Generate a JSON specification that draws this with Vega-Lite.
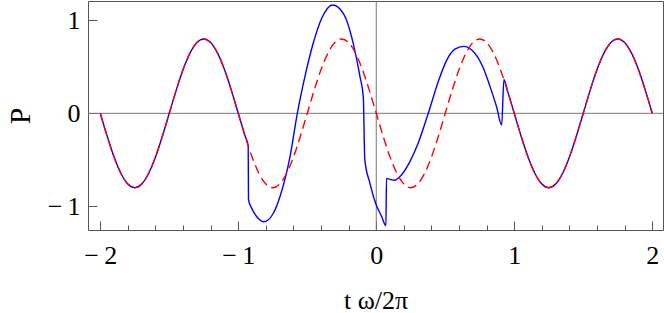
{
  "$schema": "https://vega.github.io/schema/vega-lite/v6.json",
  "width": 575,
  "height": 229,
  "autosize": {"type": "none"},
  "padding": {"left": 88, "top": 1, "right": 1, "bottom": 83},
  "background": "white",
  "config": {"view": {"stroke": "#555555", "strokeWidth": 1}, "font": "Liberation Serif"},
  "datasets": {
    "red": [
      {"t": -2, "P": 0}, {"t": -1.95, "P": -0.247}, {"t": -1.9, "P": -0.47}, {"t": -1.85, "P": -0.647}, {"t": -1.8, "P": -0.761},
      {"t": -1.75, "P": -0.8}, {"t": -1.7, "P": -0.761}, {"t": -1.65, "P": -0.647}, {"t": -1.6, "P": -0.47}, {"t": -1.55, "P": -0.247},
      {"t": -1.5, "P": 0}, {"t": -1.45, "P": 0.247}, {"t": -1.4, "P": 0.47}, {"t": -1.35, "P": 0.647}, {"t": -1.3, "P": 0.761},
      {"t": -1.25, "P": 0.8}, {"t": -1.2, "P": 0.761}, {"t": -1.15, "P": 0.647}, {"t": -1.1, "P": 0.47}, {"t": -1.05, "P": 0.247},
      {"t": -1, "P": 0}, {"t": -0.95, "P": -0.247}, {"t": -0.9, "P": -0.47}, {"t": -0.85, "P": -0.647}, {"t": -0.8, "P": -0.761},
      {"t": -0.75, "P": -0.8}, {"t": -0.7, "P": -0.761}, {"t": -0.65, "P": -0.647}, {"t": -0.6, "P": -0.47}, {"t": -0.55, "P": -0.247},
      {"t": -0.5, "P": 0}, {"t": -0.45, "P": 0.247}, {"t": -0.4, "P": 0.47}, {"t": -0.35, "P": 0.647}, {"t": -0.3, "P": 0.761},
      {"t": -0.25, "P": 0.8}, {"t": -0.2, "P": 0.761}, {"t": -0.15, "P": 0.647}, {"t": -0.1, "P": 0.47}, {"t": -0.05, "P": 0.247},
      {"t": 0, "P": 0}, {"t": 0.05, "P": -0.247}, {"t": 0.1, "P": -0.47}, {"t": 0.15, "P": -0.647}, {"t": 0.2, "P": -0.761},
      {"t": 0.25, "P": -0.8}, {"t": 0.3, "P": -0.761}, {"t": 0.35, "P": -0.647}, {"t": 0.4, "P": -0.47}, {"t": 0.45, "P": -0.247},
      {"t": 0.5, "P": 0}, {"t": 0.55, "P": 0.247}, {"t": 0.6, "P": 0.47}, {"t": 0.65, "P": 0.647}, {"t": 0.7, "P": 0.761},
      {"t": 0.75, "P": 0.8}, {"t": 0.8, "P": 0.761}, {"t": 0.85, "P": 0.647}, {"t": 0.9, "P": 0.47}, {"t": 0.95, "P": 0.247},
      {"t": 1, "P": 0}, {"t": 1.05, "P": -0.247}, {"t": 1.1, "P": -0.47}, {"t": 1.15, "P": -0.647}, {"t": 1.2, "P": -0.761},
      {"t": 1.25, "P": -0.8}, {"t": 1.3, "P": -0.761}, {"t": 1.35, "P": -0.647}, {"t": 1.4, "P": -0.47}, {"t": 1.45, "P": -0.247},
      {"t": 1.5, "P": 0}, {"t": 1.55, "P": 0.247}, {"t": 1.6, "P": 0.47}, {"t": 1.65, "P": 0.647}, {"t": 1.7, "P": 0.761},
      {"t": 1.75, "P": 0.8}, {"t": 1.8, "P": 0.761}, {"t": 1.85, "P": 0.647}, {"t": 1.9, "P": 0.47}, {"t": 1.95, "P": 0.247},
      {"t": 2, "P": 0}
    ],
    "blue": [
      {"t": -2, "P": 0}, {"t": -1.95, "P": -0.247}, {"t": -1.9, "P": -0.47}, {"t": -1.85, "P": -0.647}, {"t": -1.8, "P": -0.761},
      {"t": -1.75, "P": -0.8}, {"t": -1.7, "P": -0.761}, {"t": -1.65, "P": -0.647}, {"t": -1.6, "P": -0.47}, {"t": -1.55, "P": -0.247},
      {"t": -1.5, "P": 0}, {"t": -1.45, "P": 0.247}, {"t": -1.4, "P": 0.47}, {"t": -1.35, "P": 0.647}, {"t": -1.3, "P": 0.761},
      {"t": -1.25, "P": 0.8}, {"t": -1.2, "P": 0.761}, {"t": -1.15, "P": 0.647}, {"t": -1.1, "P": 0.47}, {"t": -1.05, "P": 0.247},
      {"t": -1, "P": 0}, {"t": -0.95, "P": -0.247}, {"t": -0.928, "P": -0.35},
      {"t": -0.926, "P": -0.93}, {"t": -0.903, "P": -1.02}, {"t": -0.867, "P": -1.11}, {"t": -0.814, "P": -1.166},
      {"t": -0.746, "P": -1.075}, {"t": -0.698, "P": -0.897}, {"t": -0.625, "P": -0.466}, {"t": -0.572, "P": 0},
      {"t": -0.517, "P": 0.394}, {"t": -0.457, "P": 0.753}, {"t": -0.396, "P": 1.02}, {"t": -0.316, "P": 1.165},
      {"t": -0.239, "P": 1.075}, {"t": -0.167, "P": 0.753}, {"t": -0.118, "P": 0.394}, {"t": -0.094, "P": 0.18},
      {"t": -0.083, "P": -0.5}, {"t": -0.046, "P": -0.75}, {"t": -0.004, "P": -0.97}, {"t": 0.039, "P": -1.11},
      {"t": 0.07, "P": -1.21}, {"t": 0.074, "P": -0.7}, {"t": 0.1, "P": -0.71}, {"t": 0.13, "P": -0.72},
      {"t": 0.184, "P": -0.66}, {"t": 0.244, "P": -0.52}, {"t": 0.304, "P": -0.32}, {"t": 0.377, "P": 0},
      {"t": 0.449, "P": 0.34}, {"t": 0.51, "P": 0.57}, {"t": 0.57, "P": 0.69}, {"t": 0.633, "P": 0.72},
      {"t": 0.703, "P": 0.665}, {"t": 0.775, "P": 0.49}, {"t": 0.824, "P": 0.29}, {"t": 0.872, "P": 0.07},
      {"t": 0.909, "P": -0.126}, {"t": 0.925, "P": 0.363}, {"t": 0.95, "P": 0.247},
      {"t": 1, "P": 0}, {"t": 1.05, "P": -0.247}, {"t": 1.1, "P": -0.47}, {"t": 1.15, "P": -0.647}, {"t": 1.2, "P": -0.761},
      {"t": 1.25, "P": -0.8}, {"t": 1.3, "P": -0.761}, {"t": 1.35, "P": -0.647}, {"t": 1.4, "P": -0.47}, {"t": 1.45, "P": -0.247},
      {"t": 1.5, "P": 0}, {"t": 1.55, "P": 0.247}, {"t": 1.6, "P": 0.47}, {"t": 1.65, "P": 0.647}, {"t": 1.7, "P": 0.761},
      {"t": 1.75, "P": 0.8}, {"t": 1.8, "P": 0.761}, {"t": 1.85, "P": 0.647}, {"t": 1.9, "P": 0.47}, {"t": 1.95, "P": 0.247},
      {"t": 2, "P": 0}
    ],
    "zx": [{"t": 0}],
    "zy": [{"P": 0}]
  },
  "layer": [
    {
      "data": {"name": "zx"},
      "mark": {"type": "rule", "color": "#777777", "strokeWidth": 1},
      "encoding": {
        "x": {
          "field": "t", "type": "quantitative",
          "scale": {"domain": [-2.089, 2.078], "nice": false, "zero": false},
          "axis": {
            "title": "t ω/2π",
            "values": [-2, -1.8, -1.6, -1.4, -1.2, -1, -0.8, -0.6, -0.4, -0.2, 0, 0.2, 0.4, 0.6, 0.8, 1, 1.2, 1.4, 1.6, 1.8, 2],
            "labelExpr": "datum.value % 1 !== 0 ? '' : (datum.value < 0 ? '−\u2009' + abs(datum.value) : '' + datum.value)",
            "tickSize": {"condition": {"test": "datum.value % 1 === 0", "value": -9}, "value": -5},
            "tickColor": "#555555", "tickWidth": 1, "domain": false, "grid": false,
            "labelFont": "Liberation Serif", "labelFontSize": 26, "labelColor": "black", "labelPadding": 21,
            "labelFlush": false, "labelOverlap": false, "labelBound": false,
            "titleFont": "Liberation Serif", "titleFontSize": 26, "titleFontWeight": "normal", "titleColor": "black", "titlePadding": 15
          }
        }
      }
    },
    {
      "data": {"name": "zy"},
      "mark": {"type": "rule", "color": "#777777", "strokeWidth": 1},
      "encoding": {
        "y": {
          "field": "P", "type": "quantitative",
          "scale": {"domain": [-1.255, 1.208], "nice": false, "zero": false},
          "axis": {
            "title": "P", "values": [-1, 0, 1],
            "labelExpr": "datum.value < 0 ? '−\u2009' + abs(datum.value) : '' + datum.value",
            "tickSize": -9, "tickColor": "#555555", "tickWidth": 1, "domain": false, "grid": false,
            "labelFont": "Liberation Serif", "labelFontSize": 26, "labelColor": "black", "labelPadding": 17,
            "labelFlush": false, "labelOverlap": false, "labelBound": false,
            "titleFont": "Liberation Serif", "titleFontSize": 30, "titleFontWeight": "normal", "titleColor": "black", "titlePadding": 12
          }
        }
      }
    },
    {
      "data": {"name": "blue"},
      "mark": {"type": "line", "color": "#0000ff", "strokeWidth": 1.4, "interpolate": "monotone", "clip": true},
      "encoding": {
        "x": {
          "field": "t", "type": "quantitative",
          "scale": {"domain": [-2.089, 2.078], "nice": false, "zero": false},
          "axis": {
            "title": "t ω/2π",
            "values": [-2, -1.8, -1.6, -1.4, -1.2, -1, -0.8, -0.6, -0.4, -0.2, 0, 0.2, 0.4, 0.6, 0.8, 1, 1.2, 1.4, 1.6, 1.8, 2],
            "labelExpr": "datum.value % 1 !== 0 ? '' : (datum.value < 0 ? '−\u2009' + abs(datum.value) : '' + datum.value)",
            "tickSize": {"condition": {"test": "datum.value % 1 === 0", "value": -9}, "value": -5},
            "tickColor": "#555555", "tickWidth": 1, "domain": false, "grid": false,
            "labelFont": "Liberation Serif", "labelFontSize": 26, "labelColor": "black", "labelPadding": 21,
            "labelFlush": false, "labelOverlap": false, "labelBound": false,
            "titleFont": "Liberation Serif", "titleFontSize": 26, "titleFontWeight": "normal", "titleColor": "black", "titlePadding": 15
          }
        },
        "y": {
          "field": "P", "type": "quantitative",
          "scale": {"domain": [-1.255, 1.208], "nice": false, "zero": false},
          "axis": {
            "title": "P", "values": [-1, 0, 1],
            "labelExpr": "datum.value < 0 ? '−\u2009' + abs(datum.value) : '' + datum.value",
            "tickSize": -9, "tickColor": "#555555", "tickWidth": 1, "domain": false, "grid": false,
            "labelFont": "Liberation Serif", "labelFontSize": 26, "labelColor": "black", "labelPadding": 17,
            "labelFlush": false, "labelOverlap": false, "labelBound": false,
            "titleFont": "Liberation Serif", "titleFontSize": 30, "titleFontWeight": "normal", "titleColor": "black", "titlePadding": 12
          }
        }
      }
    },
    {
      "data": {"name": "red"},
      "mark": {"type": "line", "color": "#ff0000", "strokeWidth": 1.4, "strokeDash": [9, 5], "interpolate": "monotone", "clip": true},
      "encoding": {
        "x": {
          "field": "t", "type": "quantitative",
          "scale": {"domain": [-2.089, 2.078], "nice": false, "zero": false},
          "axis": {
            "title": "t ω/2π",
            "values": [-2, -1.8, -1.6, -1.4, -1.2, -1, -0.8, -0.6, -0.4, -0.2, 0, 0.2, 0.4, 0.6, 0.8, 1, 1.2, 1.4, 1.6, 1.8, 2],
            "labelExpr": "datum.value % 1 !== 0 ? '' : (datum.value < 0 ? '−\u2009' + abs(datum.value) : '' + datum.value)",
            "tickSize": {"condition": {"test": "datum.value % 1 === 0", "value": -9}, "value": -5},
            "tickColor": "#555555", "tickWidth": 1, "domain": false, "grid": false,
            "labelFont": "Liberation Serif", "labelFontSize": 26, "labelColor": "black", "labelPadding": 21,
            "labelFlush": false, "labelOverlap": false, "labelBound": false,
            "titleFont": "Liberation Serif", "titleFontSize": 26, "titleFontWeight": "normal", "titleColor": "black", "titlePadding": 15
          }
        },
        "y": {
          "field": "P", "type": "quantitative",
          "scale": {"domain": [-1.255, 1.208], "nice": false, "zero": false},
          "axis": {
            "title": "P", "values": [-1, 0, 1],
            "labelExpr": "datum.value < 0 ? '−\u2009' + abs(datum.value) : '' + datum.value",
            "tickSize": -9, "tickColor": "#555555", "tickWidth": 1, "domain": false, "grid": false,
            "labelFont": "Liberation Serif", "labelFontSize": 26, "labelColor": "black", "labelPadding": 17,
            "labelFlush": false, "labelOverlap": false, "labelBound": false,
            "titleFont": "Liberation Serif", "titleFontSize": 30, "titleFontWeight": "normal", "titleColor": "black", "titlePadding": 12
          }
        }
      }
    }
  ]
}
